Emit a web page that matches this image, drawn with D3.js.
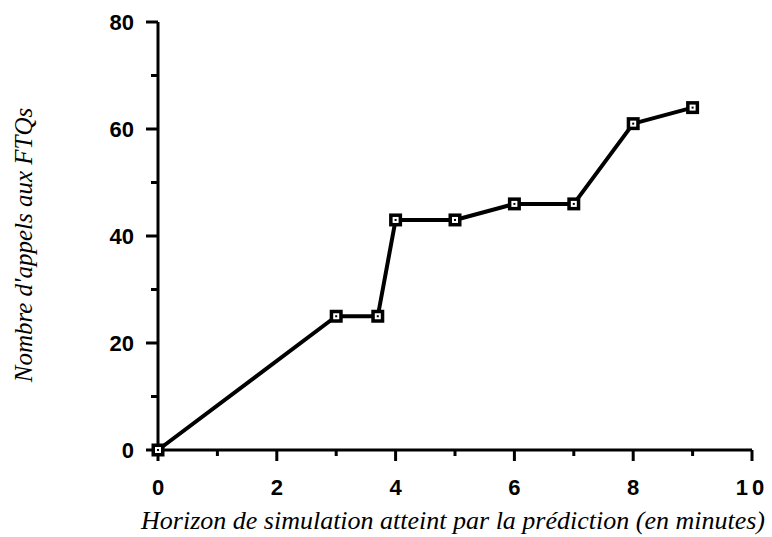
<!DOCTYPE html>
<html>
    <head>
        <meta charset="utf-8"/>
        <script src="https://cdn.jsdelivr.net/npm/d3@7"></script>
        <style>
            body{ margin:0; background:#fff; }
            .tick-label{ font-family:"Liberation Sans", Arial, sans-serif; font-size:22px; font-weight:bold; fill:#000; }
            .axis-title{ font-family:"Liberation Serif", "Times New Roman", serif; font-style:italic; font-size:25px; fill:#000; }
        </style>
    </head>
    <body>
        <div id="chart"></div>
    <script>
        // data
        var horizon = [0, 3, 3.7, 4, 5, 6, 7, 8, 9];
        var appels  = [0, 25, 25, 43, 43, 46, 46, 61, 64];
        var xTicks = [0, 2, 4, 6, 8, 10];
        var yTicks = [0, 20, 40, 60, 80];

        var width = 772, height = 537;

        var svg = d3.select("#chart").append("svg")
            .attr("width", width)
            .attr("height", height);

        var x = d3.scaleLinear().domain([0, 10]).range([158, 752]);
        var y = d3.scaleLinear().domain([0, 80]).range([450, 22]);

        var axisG = svg.append("g").attr("stroke", "#000").attr("stroke-width", 3);

        // axis lines
        axisG.append("line").attr("x1", x(0)).attr("x2", x(10)).attr("y1", y(0)).attr("y2", y(0));
        axisG.append("line").attr("x1", x(0)).attr("x2", x(0)).attr("y1", y(0) + 1.5).attr("y2", y(80));

        // x ticks, major + minor
        axisG.selectAll(".xt").data(d3.range(0, 11)).enter().append("line")
            .attr("x1", d => x(d)).attr("x2", d => x(d))
            .attr("y1", y(0)).attr("y2", d => y(0) + (d % 2 === 0 ? 11 : 6));

        // y ticks, major + minor
        axisG.selectAll(".yt").data(d3.range(0, 81, 10)).enter().append("line")
            .attr("y1", d => y(d)).attr("y2", d => y(d))
            .attr("x1", x(0)).attr("x2", d => x(0) - (d % 20 === 0 ? 12 : 7));

        svg.selectAll(".xl").data(xTicks).enter().append("text")
            .attr("class", "tick-label")
            .attr("x", d => x(d)).attr("y", y(0) + 45)
            .attr("text-anchor", "middle")
            .attr("letter-spacing", d => d >= 10 ? "4px" : null)
            .text(d => d);

        svg.selectAll(".yl").data(yTicks).enter().append("text")
            .attr("class", "tick-label")
            .attr("x", x(0) - 24).attr("y", d => y(d) + 8)
            .attr("text-anchor", "end")
            .text(d => d);

        // series line
        var pts = horizon.map((h, i) => [h, appels[i]]);
        svg.append("path")
            .datum(pts)
            .attr("fill", "none")
            .attr("stroke", "#000")
            .attr("stroke-width", 4)
            .attr("stroke-linejoin", "round")
            .attr("d", d3.line().x(d => x(d[0])).y(d => y(d[1])));

        // square markers
        var mk = svg.selectAll(".mk").data(pts).enter().append("g")
            .attr("transform", d => "translate(" + x(d[0]) + "," + y(d[1]) + ")");
        mk.append("rect").attr("x", -6.5).attr("y", -6.5).attr("width", 13).attr("height", 13).attr("fill", "#000");
        mk.append("rect").attr("x", -3).attr("y", -3).attr("width", 6).attr("height", 6).attr("fill", "#fff");
        mk.append("rect").attr("x", -1).attr("y", -1).attr("width", 2).attr("height", 2).attr("fill", "#000");

        // titles
        svg.append("text").attr("class", "axis-title")
            .attr("x", 453).attr("y", 529)
            .attr("text-anchor", "middle")
            .style("font-size", "26px")
            .text("Horizon de simulation atteint par la prédiction (en minutes)");

        svg.append("text").attr("class", "axis-title")
            .attr("transform", "translate(32,245) rotate(-90)")
            .attr("text-anchor", "middle")
            .text("Nombre d'appels aux FTQs");
    </script>
    </body>
</html>
